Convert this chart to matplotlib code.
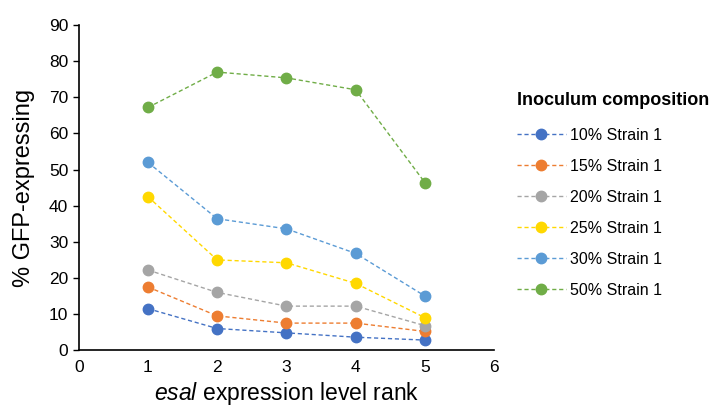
import matplotlib
matplotlib.use("Agg")
import matplotlib.pyplot as plt

plt.rcParams['font.family'] = ['Liberation Sans', 'DejaVu Sans']
plt.rcParams['mathtext.fontset'] = 'custom'
plt.rcParams['mathtext.rm'] = 'Liberation Sans'
plt.rcParams['mathtext.it'] = 'Liberation Sans:italic'

ranks = [1, 2, 3, 4, 5]
labels = ['10% Strain 1', '15% Strain 1', '20% Strain 1',
          '25% Strain 1', '30% Strain 1', '50% Strain 1']
colors = ['#4472C4', '#ED7D31', '#A5A5A5', '#FFD800', '#5B9BD5', '#70AD47']

strain10 = [11.5, 6, 4.8, 3.6, 2.8]
strain15 = [17.5, 9.5, 7.5, 7.5, 5.2]
strain20 = [22.2, 16, 12.2, 12.2, 6.8]
strain25 = [42.5, 25, 24.2, 18.5, 9]
strain30 = [52, 36.4, 33.6, 26.8, 15]
strain50 = [67.2, 77, 75.4, 72.1, 46.4]
series = [strain10, strain15, strain20, strain25, strain30, strain50]

fig = plt.figure(figsize=(7.09, 4.12), dpi=100)
ax = fig.add_axes([0.111, 0.150, 0.586, 0.789])

for vals, col, lab in zip(series, colors, labels):
    ax.plot(ranks, vals, linestyle=(0, (3, 2)), linewidth=1.0, color=col,
            marker='o', markersize=7.5, label=lab)

ax.set_xlim(0, 6)
ax.set_ylim(0, 90)
ax.set_xticks(range(0, 7))
ax.set_yticks(range(0, 91, 10))
ax.spines['top'].set_visible(False)
ax.spines['right'].set_visible(False)
ax.spines['left'].set_linewidth(1.2)
ax.spines['bottom'].set_linewidth(1.2)
ax.tick_params(axis='x', length=0, pad=7, labelsize=12.5)
ax.tick_params(axis='y', length=4, width=1, labelsize=12.5)

ax.set_ylabel('% GFP-expressing', fontsize=17, labelpad=10)
ax.set_xlabel(r'$\it{esal}$ expression level rank', fontsize=16.5, labelpad=4)

leg = ax.legend(loc='upper left', bbox_to_anchor=(1.02, 0.84), frameon=False,
                title='Inoculum composition', fontsize=11.5,
                handlelength=3.05, labelspacing=1.0, handletextpad=0.3)
leg.get_title().set_fontweight('bold')
leg.get_title().set_fontsize(13)
leg._legend_box.align = 'left'
leg._legend_box.sep = 14

fig.savefig('out.png', dpi=100)
